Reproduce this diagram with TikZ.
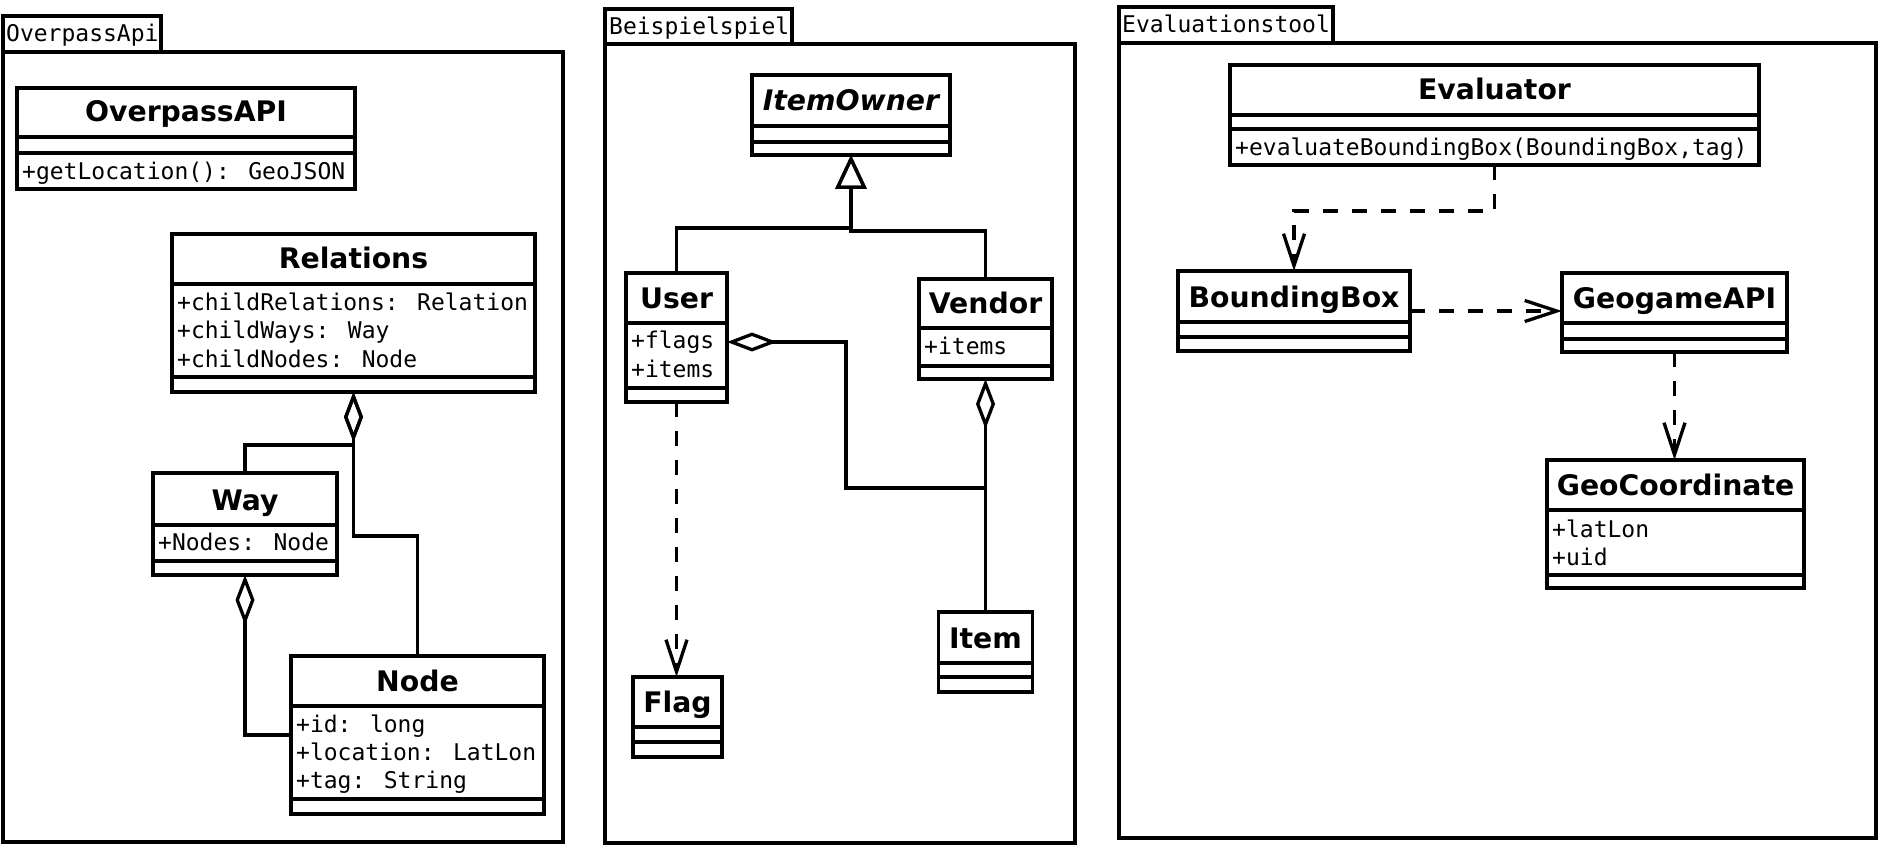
\documentclass[tikz,border=0pt]{standalone}
\usepackage{fontspec}
\setmainfont{DejaVu Sans}
\newfontfamily\umlmono{DejaVu Sans Mono}
\usetikzlibrary{arrows.meta}
\tikzset{
  ln/.style={line width=3.3pt},
  cbox/.style={draw, line width=3.3pt, inner sep=0pt, outer sep=0pt, fill=white},
  ttl/.style={font=\bfseries\fontsize{28.3}{34}\selectfont, inner sep=0pt, anchor=base},
  attr/.style={font=\umlmono\fontsize{23}{28}\selectfont, inner sep=0pt, anchor=base west},
  agg/.style={line width=3.3pt, {Diamond[open,length=50pt,width=19pt]}-},
  gen/.style={line width=3.3pt, {Triangle[open,length=34pt,width=31pt]}-},
  dep/.style={line width=3.3pt, dash pattern=on 15pt off 14pt, -{Straight Barb[length=32pt,width=21pt]}},
}
% name x1 y1 x2 y2 header-bottom separator title
\newcommand\umlcls[8]{%
  \node[cbox, minimum width={(#4-#2)*1pt}, minimum height={(#5-#3)*1pt}] (#1) at ({(#2+#4)/2},{(#3+#5)/2}) {};
  \draw[ln] (#2,#6) -- (#4,#6);
  \draw[ln] (#2,#7) -- (#4,#7);
  \node[ttl] (#1-title) at ({(#2+#4)/2},{#6-15}) {#8};
}
\begin{document}
\begin{tikzpicture}[x=1pt,y=-1pt]
\useasboundingbox (0,0) rectangle (1878,850);
\fill[white] (0,0) rectangle (1878,850);

% ---------- packages ----------
\draw[ln, fill=white] (3,16) rectangle (161,52);
\draw[ln] (3,52) rectangle (563,842);
\node[attr] (pkgA) at (6,42) {OverpassApi};

\draw[ln, fill=white] (605,9) rectangle (792,44);
\draw[ln] (605,44) rectangle (1075,843);
\node[attr] (pkgB) at (609,35) {Beispielspiel};

\draw[ln, fill=white] (1119,7) rectangle (1333,43);
\draw[ln] (1119,43) rectangle (1876,838);
\node[attr] (pkgC) at (1122,33) {Evaluationstool};

% ---------- OverpassApi ----------
\umlcls{opapi}{17}{88}{355}{189}{137}{153}{OverpassAPI}
\node[attr] (opapi-o1) at (22,180) {+getLocation(): GeoJSON};

\umlcls{rel}{172}{234}{535}{392}{284}{377}{Relations}
\node[attr] (rel-a1) at (177,310) {+childRelations: Relation};
\node[attr] (rel-a2) at (177,338) {+childWays: Way};
\node[attr] (rel-a3) at (177,367) {+childNodes: Node};

\umlcls{way}{153}{473}{337}{575}{525}{561}{Way}
\node[attr] (way-a1) at (158,550) {+Nodes: Node};

\umlcls{nd}{291}{656}{544}{814}{706}{799}{Node}
\node[attr] (nd-a1) at (296,732) {+id: long};
\node[attr] (nd-a2) at (296,760) {+location: LatLon};
\node[attr] (nd-a3) at (296,788) {+tag: String};

% ---------- Beispielspiel ----------
\umlcls{io}{752}{75}{950}{155}{126}{142}{\itshape ItemOwner}

\umlcls{user}{626}{273}{727}{402}{323}{388}{User}
\node[attr] (user-a1) at (631,348) {+flags};
\node[attr] (user-a2) at (631,377) {+items};

\umlcls{vendor}{919}{279}{1052}{379}{328}{366}{Vendor}
\node[attr] (vendor-a1) at (924,354) {+items};

\umlcls{item}{938.5}{612}{1032.5}{692}{663}{677}{Item}
\umlcls{flag}{633}{677}{722}{757}{727}{742}{Flag}

% ---------- Evaluationstool ----------
\umlcls{ev}{1230}{65}{1759}{165}{115}{129}{Evaluator}
\node[attr] (ev-o1) at (1235,156) {+evaluateBoundingBox(BoundingBox,tag)};

\umlcls{bb}{1178}{271}{1410}{351}{322}{337}{BoundingBox}
\umlcls{ga}{1562}{273}{1787}{352}{323}{339}{GeogameAPI}

\umlcls{gc}{1547}{460}{1804}{588}{510}{575}{GeoCoordinate}
\node[attr] (gc-a1) at (1552,537) {+latLon};
\node[attr] (gc-a2) at (1552,565) {+uid};

% ---------- connectors ----------
\draw[agg] (rel.south) -- ++(0,53) -| (way.north);
\draw[agg] (rel.south) -- ++(0,144) -| (nd.north);
\draw[agg] (way.south) |- (nd.west);

\draw[gen] (io.south) -- ++(0,73) -| (user.north);
\draw[gen] (io.south) -- ++(0,76) -| (vendor.north);
\draw[agg] ([yshift=-4.5pt]user.east) -- ++(119,0) -- ++(0,146) -| (item.north);
\draw[agg] (vendor.south) -- (item.north);
\draw[dep] (user.south) -- (user.south |- flag.north);

\draw[dep] (ev.south) -- ++(0,46) -| (bb.north);
\draw[dep] (bb.east) -- (bb.east -| ga.west);
\draw[dep] (ga.south) -- (ga.south |- gc.north);
\end{tikzpicture}
\end{document}
